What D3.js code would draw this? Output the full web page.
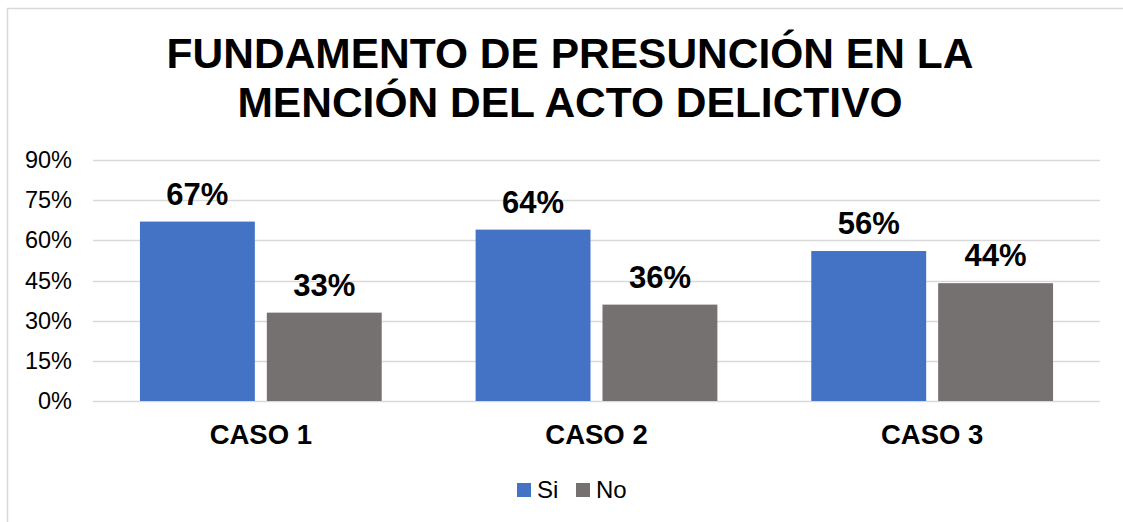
<!DOCTYPE html>
<html><head><meta charset="utf-8">
<script src="https://cdn.jsdelivr.net/npm/d3@7"></script>
<style>
html,body{margin:0;padding:0;background:#fff;}
svg{display:block;font-family:"Liberation Sans",Arial,sans-serif;}
</style></head>
<body>
<svg id="chart" width="1123" height="522"></svg>
<script>
const titleLines = ["FUNDAMENTO DE PRESUNCIÓN EN LA", "MENCIÓN DEL ACTO DELICTIVO"];
const categories = ["CASO 1", "CASO 2", "CASO 3"];
const seriesNames = ["Si", "No"];
const siValues = [67, 64, 56];
const noValues = [33, 36, 44];
const tickValues = [0, 15, 30, 45, 60, 75, 90];
const colors = ["#4472C4", "#767171"];

const svg = d3.select("#chart");

// chart area border
svg.append("rect").attr("x", 7.5).attr("y", 8.5).attr("width", 1126).attr("height", 530)
  .attr("fill", "#fff").attr("stroke", "#d9d9d9").attr("stroke-width", 1.5);

// title
const title = svg.append("text").attr("text-anchor", "middle")
  .attr("font-weight", "bold").attr("font-size", 42.5).attr("fill", "#000");
titleLines.forEach((t, i) => {
  title.append("tspan").attr("x", 570).attr("y", 68 + i * 49).text(t);
});

const plot = {left: 93, right: 1100, top: 160, bottom: 401};
const y = d3.scaleLinear().domain([0, 90]).range([plot.bottom, plot.top]);
const x = d3.scaleBand().domain(categories).range([plot.left, plot.right]).padding(0);
const xs = d3.scaleBand().domain(seriesNames).range([0, x.bandwidth()])
  .paddingInner(0.0945).paddingOuter(0.37);

// gridlines
svg.append("g").selectAll("line").data(tickValues).join("line")
  .attr("x1", plot.left).attr("x2", plot.right)
  .attr("y1", d => Math.round(y(d)) + 0.5).attr("y2", d => Math.round(y(d)) + 0.5)
  .attr("stroke", "#d9d9d9").attr("stroke-width", 1.5);

// y axis labels
const yAxis = d3.axisLeft(y).tickValues(tickValues).tickSize(0).tickPadding(0)
  .tickFormat(d => d + "%");
const gy = svg.append("g").attr("transform", `translate(${plot.left - 21},0)`).call(yAxis);
gy.select(".domain").remove();
gy.selectAll("text").attr("font-size", 23.5).attr("fill", "#000")
  .attr("font-family", "Liberation Sans, Arial, sans-serif");

// bars
const data = categories.map((c, i) => ({cat: c, vals: [siValues[i], noValues[i]]}));
const groups = svg.append("g").selectAll("g").data(data).join("g")
  .attr("transform", d => `translate(${x(d.cat)},0)`);
groups.selectAll("rect").data(d => d.vals.map((v, j) => ({s: seriesNames[j], v, j}))).join("rect")
  .attr("x", d => xs(d.s)).attr("width", xs.bandwidth())
  .attr("y", d => y(d.v)).attr("height", d => y(0) - y(d.v))
  .attr("fill", d => colors[d.j]);
groups.selectAll("text.lbl").data(d => d.vals.map((v, j) => ({s: seriesNames[j], v, j}))).join("text")
  .attr("class", "lbl")
  .attr("x", d => xs(d.s) + xs.bandwidth() / 2).attr("y", d => y(d.v) - 17)
  .attr("text-anchor", "middle").attr("font-weight", "bold").attr("font-size", 31)
  .attr("fill", "#000").text(d => d.v + "%");

// x axis labels
const xAxis = d3.axisBottom(x).tickSize(0).tickPadding(0);
const gx = svg.append("g").attr("transform", `translate(0,${plot.bottom})`).call(xAxis);
gx.select(".domain").remove();
gx.selectAll("text").attr("font-size", 27.5).attr("font-weight", "bold").attr("fill", "#000")
  .attr("font-family", "Liberation Sans, Arial, sans-serif")
  .attr("dy", null).attr("y", 43);

// legend
const legX = [517, 576];
const leg = svg.append("g").selectAll("g").data(seriesNames).join("g")
  .attr("transform", (d, i) => `translate(${legX[i]},483)`);
leg.append("rect").attr("width", 14).attr("height", 14).attr("fill", (d, i) => colors[i]);
leg.append("text").attr("x", 20).attr("y", 15).attr("font-size", 24).attr("fill", "#000").text(d => d);
</script>
</body></html>
